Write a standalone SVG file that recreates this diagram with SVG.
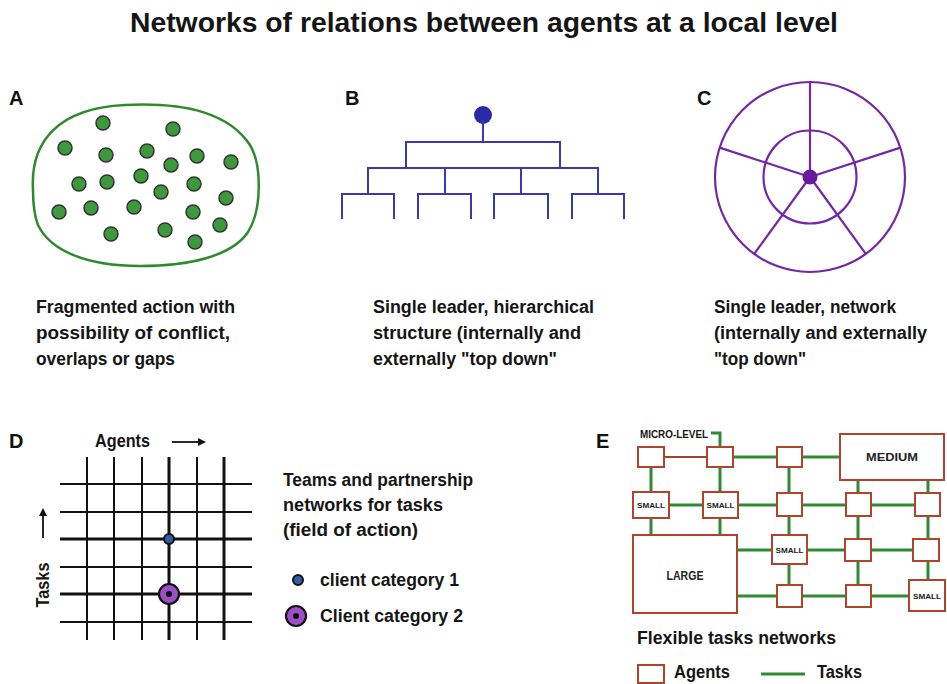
<svg xmlns="http://www.w3.org/2000/svg" width="947" height="684" viewBox="0 0 947 684">
  <style>
    .t { font-family: "Liberation Sans", Arial, sans-serif; font-stretch: condensed; font-weight: bold; fill: #151515; }
    .title { font-size: 27px; }
    .tag { font-family: "Liberation Sans", Arial, sans-serif; font-weight: 900; font-size: 20px; fill: #111; }
    .cap { font-size: 18px; }
    .dot { fill: #3c9a3c; stroke: #333; stroke-width: 1.5; }
    .tree { fill: none; stroke: #3a3ab0; stroke-width: 2; }
    .wheel { fill: none; stroke: #7326a6; stroke-width: 2.2; }
    .grid { stroke: #111; stroke-width: 2; }
    .grid-b { stroke: #111; stroke-width: 3; }
    .agent { fill: #fff; stroke: #b0432a; stroke-width: 2; }
    .task { stroke: #2f8a34; stroke-width: 3; fill: none; }
    .bx { font-family: "Liberation Sans", Arial, sans-serif; font-weight: bold; fill: #222; text-anchor: middle; }
  </style>
  <defs>
    <marker id="head" viewBox="0 0 10 10" refX="0" refY="5" markerWidth="12" markerHeight="8" markerUnits="userSpaceOnUse" orient="auto">
      <path d="M0,0 L10,5 L0,10 Z" fill="#111"/>
    </marker>
  </defs>

  <rect width="947" height="684" fill="#fff"/>

  <text class="t title" x="130" y="32" textLength="708" lengthAdjust="spacingAndGlyphs">Networks of relations between agents at a local level</text>

  <!-- Panel A: fragmented action -->
  <g id="panel-a">
    <text class="tag" x="9" y="105">A</text>
    <path d="M33,190 C30,140 60,108 125,105 C190,102 230,115 250,145 C262,165 262,210 248,232 C232,256 190,266 140,266 C85,266 50,250 38,225 C33,212 33,200 33,190 Z" fill="none" stroke="#2d8a2d" stroke-width="2.5"/>
    <circle class="dot" cx="103" cy="123" r="7"/>
    <circle class="dot" cx="173" cy="129" r="7"/>
    <circle class="dot" cx="65" cy="148" r="7"/>
    <circle class="dot" cx="106" cy="155" r="7"/>
    <circle class="dot" cx="147" cy="151" r="7"/>
    <circle class="dot" cx="197" cy="156" r="7"/>
    <circle class="dot" cx="171" cy="165" r="7"/>
    <circle class="dot" cx="231" cy="162" r="7"/>
    <circle class="dot" cx="79" cy="184" r="7"/>
    <circle class="dot" cx="107" cy="182" r="7"/>
    <circle class="dot" cx="141" cy="176" r="7"/>
    <circle class="dot" cx="194" cy="184" r="7"/>
    <circle class="dot" cx="161" cy="192" r="7"/>
    <circle class="dot" cx="226" cy="198" r="7"/>
    <circle class="dot" cx="59" cy="212" r="7"/>
    <circle class="dot" cx="91" cy="208" r="7"/>
    <circle class="dot" cx="134" cy="207" r="7"/>
    <circle class="dot" cx="193" cy="212" r="7"/>
    <circle class="dot" cx="220" cy="225" r="7"/>
    <circle class="dot" cx="111" cy="234" r="7"/>
    <circle class="dot" cx="165" cy="230" r="7"/>
    <circle class="dot" cx="195" cy="242" r="7"/>
    <text class="t cap" x="36" y="313" textLength="199" lengthAdjust="spacingAndGlyphs">Fragmented action with</text>
    <text class="t cap" x="36" y="339" textLength="194" lengthAdjust="spacingAndGlyphs">possibility of conflict,</text>
    <text class="t cap" x="36" y="365" textLength="139" lengthAdjust="spacingAndGlyphs">overlaps or gaps</text>
  </g>

  <!-- Panel B: hierarchy -->
  <g id="panel-b">
    <text class="tag" x="345" y="105">B</text>
    <circle cx="483" cy="115" r="9" fill="#2a2aa8"/>
    <path class="tree" d="M483,120 V142 M406,168 V142 H560 V168 M368,194 V168 H598 V194 M445,168 V194 M521,168 V194 M342,219 V194 H394 V219 M418,219 V194 H471 V219 M494,219 V194 H548 V219 M572,219 V194 H624 V219"/>
    <text class="t cap" x="373" y="313" textLength="221" lengthAdjust="spacingAndGlyphs">Single leader, hierarchical</text>
    <text class="t cap" x="373" y="339" textLength="208" lengthAdjust="spacingAndGlyphs">structure (internally and</text>
    <text class="t cap" x="373" y="365" textLength="184" lengthAdjust="spacingAndGlyphs">externally "top down"</text>
  </g>

  <!-- Panel C: single-leader network -->
  <g id="panel-c">
    <text class="tag" x="697" y="105">C</text>
    <circle class="wheel" cx="810" cy="177" r="95"/>
    <circle class="wheel" cx="810" cy="177" r="46.5"/>
    <path class="wheel" d="M810,177 L810,82 M810,177 L900.4,147.6 M810,177 L865.8,253.9 M810,177 L754.2,253.9 M810,177 L719.6,147.6"/>
    <circle cx="810" cy="177" r="7.5" fill="#6a1b9a"/>
    <text class="t cap" x="714" y="313" textLength="182" lengthAdjust="spacingAndGlyphs">Single leader, network</text>
    <text class="t cap" x="714" y="339" textLength="213" lengthAdjust="spacingAndGlyphs">(internally and externally</text>
    <text class="t cap" x="714" y="365" textLength="92" lengthAdjust="spacingAndGlyphs">"top down"</text>
  </g>

  <!-- Panel D: agents x tasks grid -->
  <g id="panel-d">
    <text class="tag" x="9" y="448">D</text>
    <text class="t" x="95" y="447" font-size="19" textLength="55" lengthAdjust="spacingAndGlyphs">Agents</text>
    <line x1="172" y1="442" x2="198" y2="442" stroke="#111" stroke-width="1.8" marker-end="url(#head)"/>
    <text class="t" transform="translate(49,585) rotate(-90)" text-anchor="middle" font-size="19" textLength="45" lengthAdjust="spacingAndGlyphs">Tasks</text>
    <line x1="43" y1="538" x2="43" y2="516" stroke="#111" stroke-width="1.8" marker-end="url(#head)"/>
    <g>
      <line class="grid" x1="87" y1="457" x2="87" y2="640"/>
      <line class="grid" x1="114" y1="457" x2="114" y2="640"/>
      <line class="grid" x1="142" y1="457" x2="142" y2="640"/>
      <line class="grid-b" x1="169" y1="457" x2="169" y2="640"/>
      <line class="grid" x1="197" y1="457" x2="197" y2="640"/>
      <line class="grid-b" x1="224" y1="457" x2="224" y2="640"/>
      <line class="grid" x1="60" y1="484" x2="252" y2="484"/>
      <line class="grid" x1="60" y1="512" x2="252" y2="512"/>
      <line class="grid-b" x1="60" y1="539" x2="252" y2="539"/>
      <line class="grid" x1="60" y1="567" x2="252" y2="567"/>
      <line class="grid-b" x1="60" y1="594" x2="252" y2="594"/>
      <line class="grid" x1="60" y1="622" x2="252" y2="622"/>
    </g>
    <circle cx="169" cy="539" r="5" fill="#2f5fa0" stroke="#111" stroke-width="2"/>
    <circle cx="169" cy="594" r="10" fill="#9c4fc4" stroke="#111" stroke-width="2.2"/>
    <circle cx="169" cy="594" r="3" fill="#111"/>
    <text class="t cap" x="283" y="486" textLength="190" lengthAdjust="spacingAndGlyphs">Teams and partnership</text>
    <text class="t cap" x="283" y="511" textLength="160" lengthAdjust="spacingAndGlyphs">networks for tasks</text>
    <text class="t cap" x="283" y="536" textLength="135" lengthAdjust="spacingAndGlyphs">(field of action)</text>
    <circle cx="298" cy="580" r="5" fill="#2f5fa0" stroke="#111" stroke-width="2"/>
    <text class="t cap" x="320" y="586" textLength="139" lengthAdjust="spacingAndGlyphs">client category 1</text>
    <circle cx="296" cy="616" r="10" fill="#9c4fc4" stroke="#111" stroke-width="2.2"/>
    <circle cx="296" cy="616" r="3" fill="#111"/>
    <text class="t cap" x="320" y="622" textLength="143" lengthAdjust="spacingAndGlyphs">Client category 2</text>
  </g>

  <!-- Panel E: flexible task networks -->
  <g id="panel-e">
    <text class="tag" x="596" y="448">E</text>
    <text class="t" x="640" y="438" font-size="10" textLength="68" lengthAdjust="spacingAndGlyphs">MICRO-LEVEL</text>

    <g id="tasks">
      <path class="task" stroke-width="2.2" d="M711,433 H720 V447"/>
      <line x1="664" y1="457" x2="707" y2="457" stroke="#a0442c" stroke-width="2.2"/>
      <path class="task" d="M733,457 H777 M802,457 H840"/>
      <path class="task" d="M651,467 V492 M720,467 V492 M789,467 V493 M858,480 V493 M928,480 V493"/>
      <path class="task" d="M651,518 V535 M720,518 V535 M789,516 V535 M858,516 V539 M928,516 V539"/>
      <path class="task" d="M789,564 V585 M858,561 V585 M928,561 V580"/>
      <path class="task" d="M669,505 H703 M738,505 H777 M802,505 H846 M871,505 H915"/>
      <path class="task" d="M737,550 H772 M807,550 H845 M871,550 H913"/>
      <path class="task" d="M737,596 H777 M802,596 H846 M871,596 H909"/>
    </g>

    <g id="agents">
      <rect class="agent" x="638" y="447" width="26" height="20"/>
      <rect class="agent" x="707" y="447" width="26" height="20"/>
      <rect class="agent" x="777" y="447" width="25" height="20"/>
      <rect class="agent" x="840" y="434" width="104" height="46"/>
      <rect class="agent" x="633" y="492" width="36" height="26"/>
      <rect class="agent" x="703" y="492" width="35" height="26"/>
      <rect class="agent" x="777" y="493" width="25" height="23"/>
      <rect class="agent" x="846" y="493" width="25" height="23"/>
      <rect class="agent" x="915" y="493" width="25" height="23"/>
      <rect class="agent" x="633" y="535" width="104" height="78"/>
      <rect class="agent" x="772" y="535" width="35" height="29"/>
      <rect class="agent" x="845" y="539" width="26" height="22"/>
      <rect class="agent" x="913" y="539" width="26" height="22"/>
      <rect class="agent" x="777" y="585" width="25" height="22"/>
      <rect class="agent" x="846" y="585" width="25" height="22"/>
      <rect class="agent" x="909" y="580" width="36" height="31"/>
    </g>

    <text class="bx" x="651" y="508" font-size="8" textLength="28" lengthAdjust="spacingAndGlyphs">SMALL</text>
    <text class="bx" x="720.5" y="508" font-size="8" textLength="28" lengthAdjust="spacingAndGlyphs">SMALL</text>
    <text class="bx" x="789.5" y="553" font-size="8" textLength="28" lengthAdjust="spacingAndGlyphs">SMALL</text>
    <text class="bx" x="927" y="599" font-size="8" textLength="28" lengthAdjust="spacingAndGlyphs">SMALL</text>
    <text class="bx" x="892" y="461" font-size="11" textLength="52" lengthAdjust="spacingAndGlyphs">MEDIUM</text>
    <text class="bx" x="685" y="580" font-size="12" textLength="37" lengthAdjust="spacingAndGlyphs">LARGE</text>

    <text class="t cap" x="637" y="644" textLength="199" lengthAdjust="spacingAndGlyphs">Flexible tasks networks</text>
    <rect class="agent" x="638" y="665" width="26" height="18"/>
    <text class="t cap" x="674" y="678" textLength="56" lengthAdjust="spacingAndGlyphs">Agents</text>
    <line class="task" x1="761" y1="674" x2="805" y2="674"/>
    <text class="t cap" x="817" y="678" textLength="45" lengthAdjust="spacingAndGlyphs">Tasks</text>
  </g>
</svg>
